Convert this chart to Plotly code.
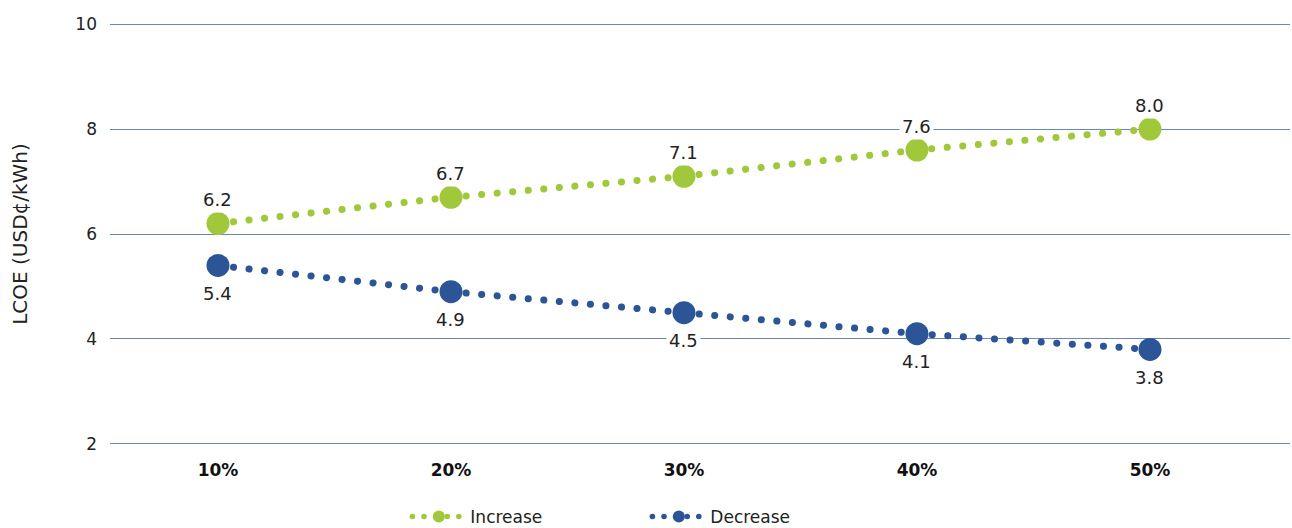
import plotly.graph_objects as go

# Share of cost change and resulting LCOE
categories = ["10%", "20%", "30%", "40%", "50%"]
increase = [6.2, 6.7, 7.1, 7.6, 8.0]
decrease = [5.4, 4.9, 4.5, 4.1, 3.8]
y_ticks = [2, 4, 6, 8, 10]

GREEN = "#A1C83B"
BLUE = "#2C5597"
FONT = "DejaVu Sans"

x_pos = list(range(len(categories)))

fig = go.Figure()
for name, vals, color in [("Increase", increase, GREEN), ("Decrease", decrease, BLUE)]:
    fig.add_trace(go.Scatter(
        x=x_pos, y=vals, name=name, mode="lines+markers", showlegend=False,
        line=dict(color=color, width=7, dash="0.1px,15.5px"),
        marker=dict(color=color, size=23),
    ))
    # legend entry with a smaller symbol
    fig.add_trace(go.Scatter(
        x=[None], y=[None], name=name, mode="lines+markers",
        line=dict(color=color, width=5.5, dash="0.1px,11.5px"),
        marker=dict(color=color, size=12),
    ))

# value labels with white backing so they cut through gridlines
for i, v in enumerate(increase):
    fig.add_annotation(x=i, y=v, text=f"{v:.1f}", showarrow=False, yshift=24,
                       bgcolor="white", borderpad=2,
                       font=dict(family=FONT, size=18, color="#222222"))
for i, v in enumerate(decrease):
    fig.add_annotation(x=i, y=v, text=f"{v:.1f}", showarrow=False, yshift=-28,
                       bgcolor="white", borderpad=2,
                       font=dict(family=FONT, size=18, color="#222222"))

fig.update_layout(
    width=1292, height=528,
    margin=dict(l=110, r=2, t=22, b=82),
    paper_bgcolor="white", plot_bgcolor="white",
    font=dict(family=FONT, size=17, color="#222222"),
    showlegend=True,
    legend=dict(orientation="h", x=0.252, xref="paper", y=0.021, yref="container",
                xanchor="left", yanchor="middle",
                itemwidth=53, entrywidth=172, font=dict(family=FONT, size=17, color="#222222")),
    xaxis=dict(range=[-0.4635, 4.601], tickvals=x_pos, ticktext=categories,
               showgrid=False, zeroline=False, showline=False, ticks="",
               ticklabelstandoff=12,
               tickfont=dict(family=FONT, size=17, color="#111111", weight="bold")),
    yaxis=dict(range=[1.96, 10.04], tickvals=y_ticks, showgrid=True, gridcolor="#6A86BA",
               gridwidth=1, zeroline=False, showline=False, ticks="",
               ticklabelstandoff=12,
               title=dict(text="LCOE (USD¢/kWh)", standoff=42,
                          font=dict(family=FONT, size=20, color="#222222"))),
)

# round line caps turn the short dashes into dots
post = """
var s=document.createElement('style');
s.innerHTML='.js-line, .scatterlayer path.js-line, .legendlines path {stroke-linecap: round !important;}';
document.head.appendChild(s);
"""
fig.write_html("out.html", post_script=post)
